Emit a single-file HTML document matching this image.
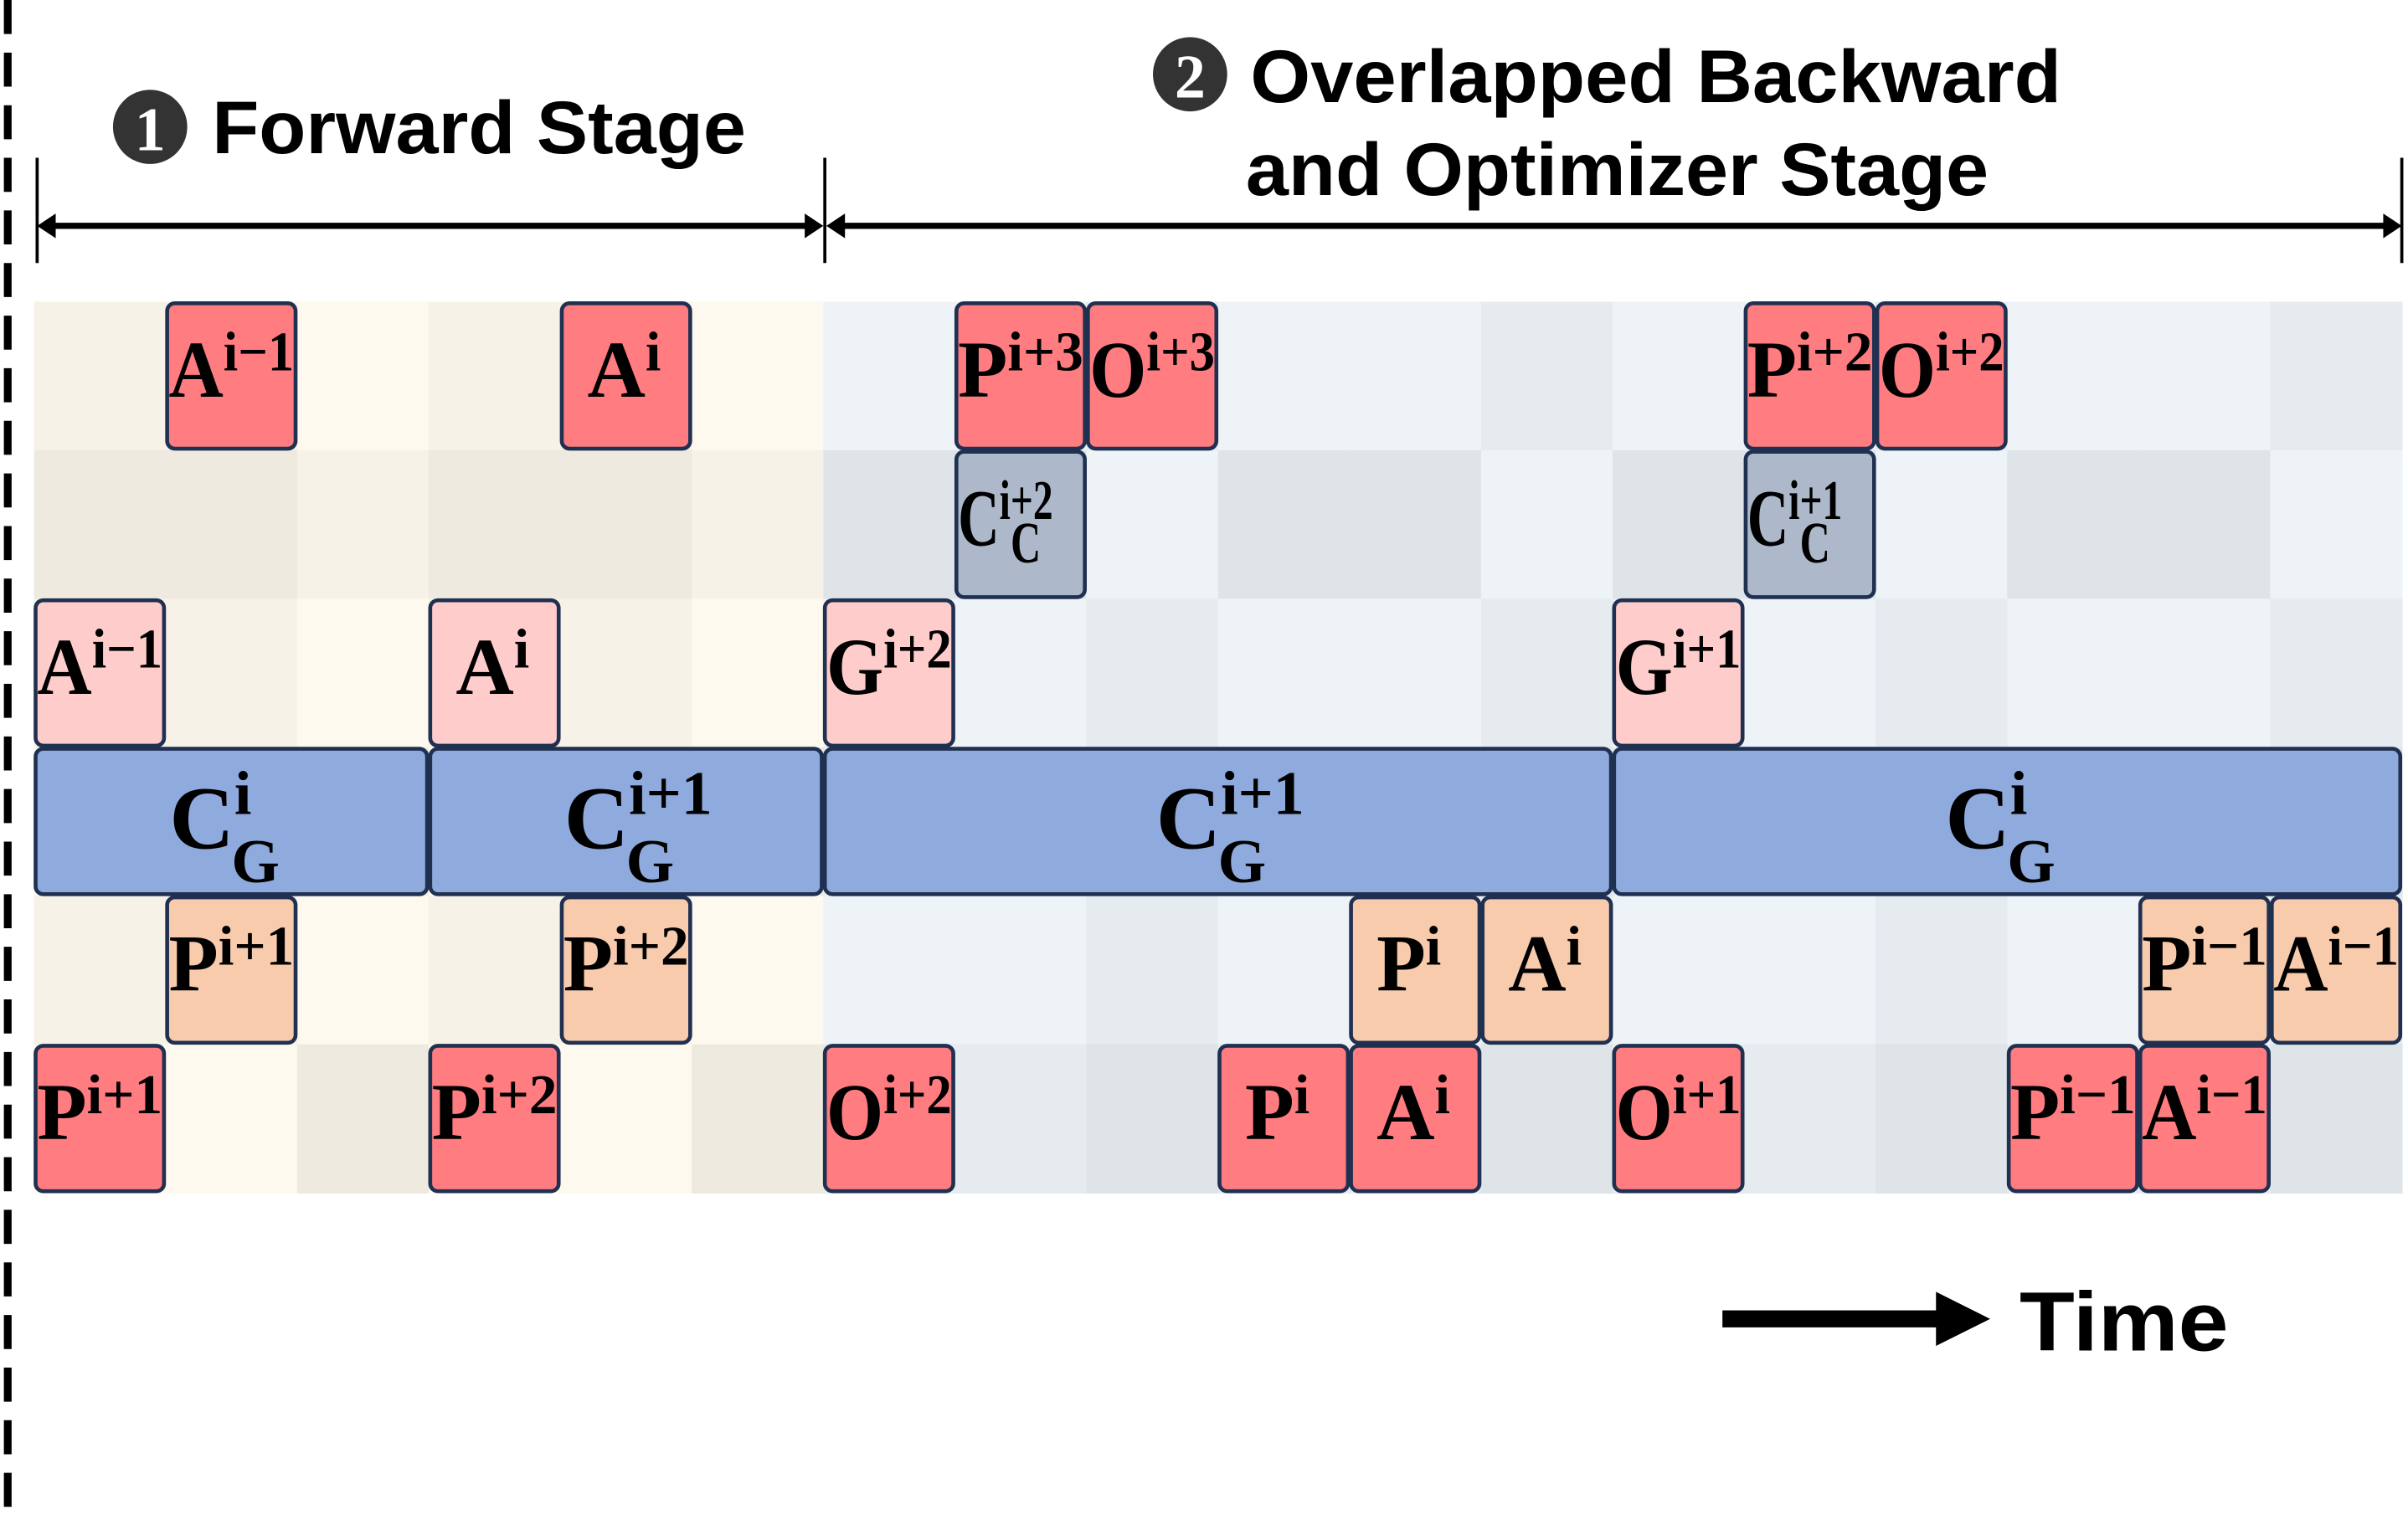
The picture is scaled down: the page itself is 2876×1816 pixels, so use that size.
<!DOCTYPE html>
<html><head><meta charset="utf-8"><style>
html,body{margin:0;padding:0;background:#fff;width:2876px;height:1816px;overflow:hidden}
svg{display:block}
.sans{font-family:"Liberation Sans",sans-serif;font-weight:bold}
.serif{font-family:"Liberation Serif",serif;font-weight:bold}
</style></head><body>
<svg id="chart" width="2876" height="1816" viewBox="0 0 1556 982.5" xmlns="http://www.w3.org/2000/svg">
<line x1="5" y1="0" x2="5" y2="982" stroke="#000" stroke-width="5" stroke-dasharray="22,12"/>
<g>
<circle cx="97" cy="82" r="24" fill="#333"/>
<text x="97" y="97" class="serif" font-size="40" fill="#fff" text-anchor="middle">1</text>
<text x="137" y="99" class="sans" font-size="48" fill="#000" textLength="345" lengthAdjust="spacingAndGlyphs">Forward Stage</text>
</g>
<g>
<circle cx="769" cy="48" r="24" fill="#333"/>
<text x="769" y="63" class="serif" font-size="40" fill="#fff" text-anchor="middle">2</text>
<text x="808" y="66" class="sans" font-size="48" fill="#000" textLength="524" lengthAdjust="spacingAndGlyphs">Overlapped Backward</text>
<text x="805" y="126" class="sans" font-size="48" fill="#000" textLength="480" lengthAdjust="spacingAndGlyphs">and Optimizer Stage</text>
</g>
<g stroke="#000">
<line x1="24" y1="102" x2="24" y2="170" stroke-width="2"/>
<line x1="533" y1="102" x2="533" y2="170" stroke-width="2"/>
<line x1="1552" y1="102" x2="1552" y2="170" stroke-width="2"/>
<line x1="30" y1="146" x2="527" y2="146" stroke-width="4"/>
<line x1="539" y1="146" x2="1546" y2="146" stroke-width="4"/>
<polygon points="24,146 36,138 36,154" fill="#000" stroke="none"/>
<polygon points="532,146 520,138 520,154" fill="#000" stroke="none"/>
<polygon points="534,146 546,138 546,154" fill="#000" stroke="none"/>
<polygon points="1552,146 1540,138 1540,154" fill="#000" stroke="none"/>
</g>
<g id="grid"></g>
<g id="blocks"></g>
<g>
<rect x="1113" y="847" width="140" height="11" fill="#000"/>
<polygon points="1251,835 1286,852.5 1251,870" fill="#000"/>
<text x="1305" y="873" class="sans" font-size="54" fill="#000" textLength="135" lengthAdjust="spacingAndGlyphs">Time</text>
</g>
</svg>
<script>
const colCount = 18;
const rowCount = 6;
const forwardCols = 6;
// blocks: column, row, span, kind, base, superscript, subscript
const blockCols = [1,4,7,8,13,14, 7,13, 0,3,6,12, 0,3,6,12, 1,4,10,11,16,17, 0,3,6,9,10,12,15,16];
const blockRows = [0,0,0,0,0,0, 1,1, 2,2,2,2, 3,3,3,3, 4,4,4,4,4,4, 5,5,5,5,5,5,5,5];
const blockSpans = [1,1,1,1,1,1, 1,1, 1,1,1,1, 3,3,6,6, 1,1,1,1,1,1, 1,1,1,1,1,1,1,1];
const blockKinds = ['red','red','red','red','red','red','gray','gray','pink','pink','pink','pink','blue','blue','blue','blue','orange','orange','orange','orange','orange','orange','red','red','red','red','red','red','red','red'];
const blockBase = ['A','A','P','O','P','O','C','C','A','A','G','G','C','C','C','C','P','P','P','A','P','A','P','P','O','P','A','O','P','A'];
const blockSup = ['i\u22121','i','i+3','i+3','i+2','i+2','i+2','i+1','i\u22121','i','i+2','i+1','i','i+1','i+1','i','i+1','i+2','i','i','i\u22121','i\u22121','i+1','i+2','i+2','i','i','i+1','i\u22121','i\u22121'];
const blockSub = ['','','','','','','C','C','','','','','G','G','G','G','','','','','','','','','','','','','',''];
const fills = {red:'#ff7c80',pink:'#ffcccc',orange:'#f8cbad',blue:'#8faadc',gray:'#adb9ca'};
const X0=22, CW=85, Y0=195, RH=96;
function xs(c){return X0+c*CW;}
function ys(r){return Y0+r*RH;}
const NS='http://www.w3.org/2000/svg';
const grid=document.getElementById('grid');
const fwdTones=['#f6f2e8','#fdf9ee','#eeeae0'];
const bwdTones=['#eef3f8','#e6ebf0','#dfe4e9'];
for(let r=0;r<rowCount;r++){for(let c=0;c<colCount;c++){
  const rect=document.createElementNS(NS,'rect');
  
  
  rect.setAttribute('x',xs(c));rect.setAttribute('y',ys(r));
  rect.setAttribute('width',CW+0.5);rect.setAttribute('height',RH+0.5);
  const t=((r%2)+(c%3===2?1:0)+(r===1?1:0))%3;
  rect.setAttribute('fill',c<forwardCols?fwdTones[t]:bwdTones[t]);
  grid.appendChild(rect);
}}
const blocks=document.getElementById('blocks');
for(let i=0;i<blockCols.length;i++){
  const g=document.createElementNS(NS,'g');
  
  
  const x=xs(blockCols[i]), y=ys(blockRows[i]), w=blockSpans[i]*CW;
  const rect=document.createElementNS(NS,'rect');
  rect.setAttribute('x',x+1);rect.setAttribute('y',y+1);
  rect.setAttribute('width',w-2);rect.setAttribute('height',RH-2);
  rect.setAttribute('rx',5);rect.setAttribute('fill',fills[blockKinds[i]]);
  rect.setAttribute('stroke','#1f3050');rect.setAttribute('stroke-width',2.5);
  g.appendChild(rect);
  const t=document.createElementNS(NS,'text');
  t.setAttribute('class','serif');
  t.setAttribute('fill','#000');
  const cx = x + w/2;
  const wide = blockSpans[i]>1;
  const baseSize = wide ? 58 : 52;
  const tx = wide ? cx-40 : x+2;
  t.setAttribute('x', tx);
  t.setAttribute('y', wide ? y+RH*0.68 : y+RH*0.64);
  t.setAttribute('font-size', baseSize);
  t.appendChild(document.createTextNode(blockBase[i]));
  const sup=document.createElementNS(NS,'tspan');
  sup.setAttribute('font-size', wide ? '40' : '36');
  sup.setAttribute('dy', wide ? '-22' : '-17');
  sup.textContent=blockSup[i];
  t.appendChild(sup);
  if(blockSub[i]){
    const sub=document.createElementNS(NS,'tspan');
    sub.setAttribute('font-size', wide ? '40' : '38');
    sub.setAttribute('dy', wide ? '44' : '28');
    sub.setAttribute('x', tx + (wide ? 40 : 34));
    sub.textContent=blockSub[i];
    t.appendChild(sub);
  }
  if(!wide && blockSup[i].length>2){t.setAttribute('textLength',w-4);t.setAttribute('lengthAdjust','spacingAndGlyphs');}
  if(!wide && blockSup[i].length<=1){t.setAttribute('x',cx-25);}
  g.appendChild(t);
  blocks.appendChild(g);
}
</script>
</body></html>
